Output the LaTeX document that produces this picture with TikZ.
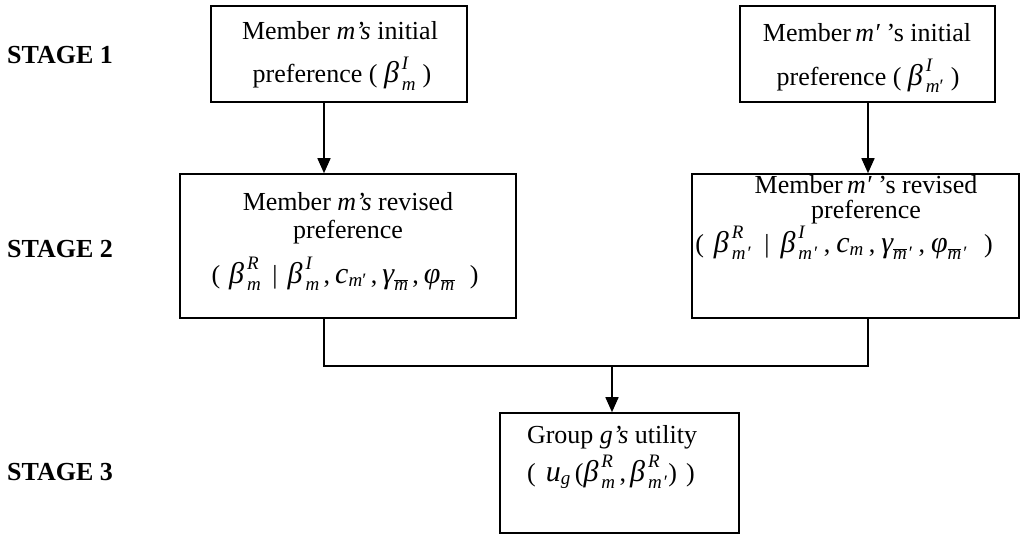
\documentclass[tikz,border=0pt]{standalone}
\usepackage{fontspec}
\setmainfont{Liberation Serif}
\usetikzlibrary{arrows.meta}
\newcommand\mi[1]{\mbox{\fontsize{30}{30}\selectfont\itshape #1}}
\newcommand\B{\mbox{\fontsize{30}{30}\selectfont\itshape β\kern3pt}}
\newcommand\si[1]{\mbox{\fontsize{19}{19}\selectfont\itshape #1}}
\newcommand\supx[1]{\raisebox{-1pt}{\fontsize{19}{19}\selectfont\itshape #1}}
\newcommand\su[1]{\mbox{\fontsize{19}{19}\selectfont #1}}
\newcommand\tx[1]{\mbox{#1}}
\newcommand\sk[1]{\kern#1pt}
\begin{document}
\begin{tikzpicture}[x=1pt,y=-1pt,
  box/.style={draw, line width=1.6pt, inner sep=0pt},
  lbl/.style={anchor=base, inner sep=0pt, font=\fontsize{26}{30}\selectfont},
  stage/.style={anchor=base west, inner sep=0pt, font=\fontsize{26}{30}\selectfont\bfseries},
  arr/.style={line width=1.6pt, -{Triangle[length=15pt,width=13pt]}},
  wire/.style={line width=1.6pt}]
\useasboundingbox (0,0) rectangle (1021,535);
\fill[white] (0,0) rectangle (1021,535);
% stage labels
\node[stage] (s1) at (7,64) {STAGE 1};
\node[stage] (s2) at (7,257) {STAGE 2};
\node[stage] (s3) at (7,480) {STAGE 3};
% boxes
\node[box, minimum width=256pt, minimum height=96pt] (b1) at (339,54) {};
\node[box, minimum width=255pt, minimum height=96pt] (b2) at (867.5,54) {};
\node[box, minimum width=336pt, minimum height=144pt] (b3) at (348,246) {};
\node[box, minimum width=327pt, minimum height=144pt] (b4) at (855.5,246) {};
\node[box, minimum width=239pt, minimum height=120pt] (b5) at (619.5,473) {};
% texts box 1
\node[lbl] (t1a) at (340,40) {Member \textit{m’s} initial};
\node[lbl] (t1b) at (342,83) {preference ( $\B^{\supx{I}}_{\si{m}}$ )};
% box 2
\node[lbl] (t2a) at (867,42) {Member\,\textit{m′}\ ’s initial};
\node[lbl] (t2b) at (868,85) {preference ( $\B^{\supx{I}}_{\si{m}\su{′}}$ )};
% box 3
\node[lbl] (t3a) at (348,210) {Member \textit{m’s} revised};
\node[lbl] (t3b) at (348,238) {preference};
\node[lbl] (t3c) at (345,283) {$\tx{(}\sk{9}\B^{\supx{R}}_{\si{m}}\sk{11}\tx{|}\sk{10}\B^{\supx{I}}_{\si{m}}\sk{4}\tx{,}\sk{5}\mi{c}_{\si{m}\su{′}}\sk{4}\tx{,}\sk{5}\mi{γ}_{\overline{\si{m}}}\sk{4}\tx{,}\sk{5}\mi{φ}_{\overline{\si{m}}}\sk{15}\tx{)}$};
% box 4
\node[lbl] (t4a) at (866,193) {Member\,\textit{m′}\ ’s revised};
\node[lbl] (t4b) at (866,218) {preference};
\node[lbl] (t4c) at (844,252) {$\tx{(}\sk{10}\B^{\supx{R}}_{\si{m}\sk{2}\su{′}}\sk{12}\tx{|}\sk{11}\B^{\supx{I}}_{\si{m}\sk{2}\su{′}}\sk{5}\tx{,}\sk{6}\mi{c}_{\si{m}}\sk{5}\tx{,}\sk{6}\mi{γ}_{\overline{\si{m}}\sk{2}\su{′}}\sk{5}\tx{,}\sk{6}\mi{φ}_{\overline{\si{m}}\sk{2}\su{′}}\sk{16}\tx{)}$};
% box 5
\node[lbl] (t5b) at (611,481) {$\tx{(}\sk{10}\mi{u}_{\si{g}}\sk{4}\tx{(}\B^{\supx{R}}_{\si{m}}\sk{4}\tx{,}\sk{4}\B^{\supx{R}}_{\si{m}\sk{2}\su{′}}\tx{)}\sk{9}\tx{)}$};
\node[lbl] (t5a) at (612,443) {Group \textit{g’s} utility};
% connectors
\coordinate (xa) at (324,0);
\coordinate (xb) at (868,0);
\coordinate (j) at (612,366);
\draw[arr] (b1.south -| xa) -- (b3.north -| xa);
\draw[arr] (b2.south -| xb) -- (b4.north -| xb);
\draw[wire] (b3.south -| xa) |- (j) -| (b4.south -| xb);
\draw[arr] (j) -- (b5.north -| j);
\end{tikzpicture}
\end{document}
